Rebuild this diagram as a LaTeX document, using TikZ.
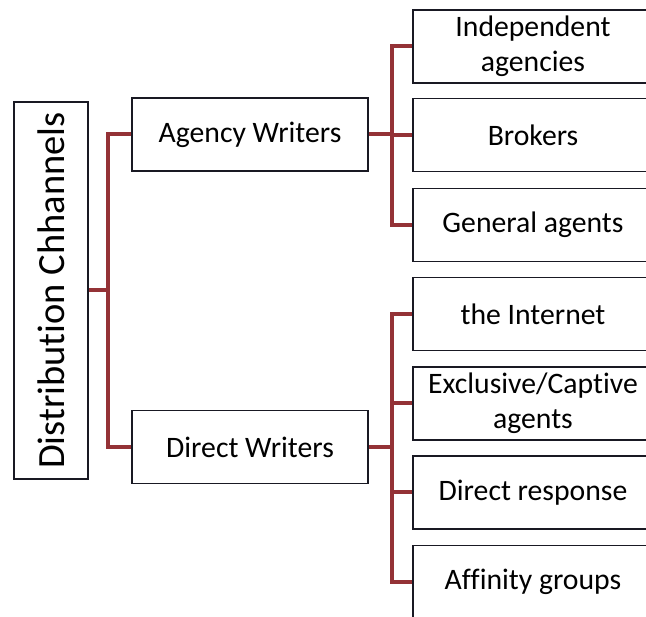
\documentclass[tikz,border=0pt]{standalone}
\usepackage{fontspec}
\setmainfont{Carlito}[Ligatures={NoCommon,NoRare}]
\definecolor{conncol}{RGB}{148,50,54}
\definecolor{boxline}{RGB}{25,25,35}
\begin{document}
\begin{tikzpicture}[x=1pt,y=-1pt,
  box/.style={draw=boxline,line width=1.8pt,fill=white,inner sep=0pt,align=center,
    font=\fontsize{29.7}{35}\selectfont},
  leaf/.style={box,minimum width=240pt,minimum height=73pt},
  mid/.style={box,minimum width=236pt,minimum height=73pt},
  conn/.style={draw=conncol,line width=4pt,line join=miter}]
\useasboundingbox (0,0) rectangle (646,617);
\clip (0,0) rectangle (646,617);
\fill[white] (0,0) rectangle (646,617);
% nodes
\node[box,minimum width=74pt,minimum height=377pt] (root) at (51,290.5)
  {\rotatebox{90}{\fontsize{38.5}{44}\selectfont Distribution Chhannels}};
\node[mid] (aw) at (250,134.5) {Agency Writers};
\node[mid] (dw) at (250,447) {Direct Writers};
\node[leaf] (ia) at (533,46.5) {Independent\\agencies};
\node[leaf] (br) at (533,135) {Brokers};
\node[leaf] (ga) at (533,225) {General agents};
\node[leaf] (in) at (533,314) {the Internet};
\node[leaf] (ex) at (533,403.5) {Exclusive/Captive\\agents};
\node[leaf] (dr) at (533,492.5) {Direct response};
\node[leaf] (af) at (533,582) {Affinity groups};
% junctions
\coordinate (j1) at (108,290.5);
\coordinate (j2) at (392,134.5);
\coordinate (j3) at (392,447);
% connectors
\draw[conn] (root.east) -- (j1);
\draw[conn] (j1) |- (aw.west);
\draw[conn] (j1) |- (dw.west);
\draw[conn] (aw.east) -- (j2);
\draw[conn] (j2) |- (ia.west);
\draw[conn] (j2) |- (br.west);
\draw[conn] (j2) |- (ga.west);
\draw[conn] (dw.east) -- (j3);
\draw[conn] (j3) |- (in.west);
\draw[conn] (j3) |- (ex.west);
\draw[conn] (j3) |- (dr.west);
\draw[conn] (j3) |- (af.west);
\end{tikzpicture}
\end{document}
